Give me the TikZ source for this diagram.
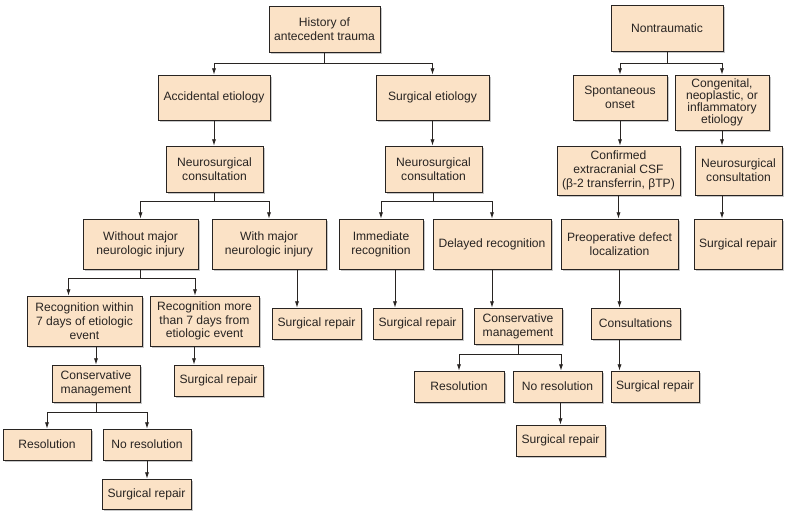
\documentclass[tikz,border=0pt]{standalone}
\usepackage{fontspec}
\setmainfont{Liberation Sans}
\usetikzlibrary{arrows.meta}
\usetikzlibrary{shadows}
\usetikzlibrary{calc}
\definecolor{peach}{RGB}{251,226,198}
\definecolor{ink}{RGB}{40,36,34}
\tikzset{x=0.025cm, y=-0.025cm,
every node/.style={font=\fontsize{8.6}{9.8}\selectfont, text=ink},
box/.style 2 args={ % Sets the properties for each box
draw=ink, fill=peach, line width=0.6pt,
align=center, inner sep=1pt,
minimum width=#1*0.025cm, minimum height=#2*0.025cm,
drop shadow={shadow xshift=1.3pt, shadow yshift=-1.3pt, fill=black, opacity=0.22}},
line/.style={draw=ink, line width=0.6pt}, % Plain connector
arr/.style={line, -{Latex[length=4.5pt,width=3pt]}}} % Connector with arrowhead

\begin{document}
\begin{tikzpicture}
	\useasboundingbox (0,0) rectangle (789,515);
	% traumatic branch
	\node[box={111}{46}] (hist) at (324.5,29) {History of\\antecedent trauma};
	\node[box={112}{45}] (acc) at (214,97.5) {Accidental etiology};
	\node[box={113}{45}] (surg) at (432.5,97.5) {Surgical etiology};
	\node[box={97}{46}] (ns1) at (214.5,169) {Neurosurgical\\consultation};
	\node[box={97}{46}] (ns2) at (433.5,169) {Neurosurgical\\consultation};
	\node[box={115}{50}] (wo) at (140.5,244) {Without major\\neurologic injury};
	\node[box={114}{50}] (wmaj) at (269,244) {With major\\neurologic injury};
	\node[box={84}{50}] (imm) at (381,244) {Immediate\\recognition};
	\node[box={118}{50}] (del) at (492,244) {Delayed recognition};
	\node[box={115}{50}] (rw) at (84.5,321) {Recognition within\\7 days of etiologic\\event};
	\node[box={109}{50}] (rm) at (204.5,321) {Recognition more\\than 7 days from\\etiologic event};
	\node[box={89}{31}] (sr1) at (316.5,323.5) {Surgical repair};
	\node[box={89}{31}] (sr2) at (417.5,323.5) {Surgical repair};
	\node[box={88}{36}] (cm2) at (518,326) {Conservative\\management};
	\node[box={88}{37}] (cm1) at (96,383.5) {Conservative\\management};
	\node[box={89}{31}] (sr3) at (218.5,380.5) {Surgical repair};
	\node[box={88}{31}] (res1) at (47,444.5) {Resolution};
	\node[box={88}{31}] (nores1) at (147,444.5) {No resolution};
	\node[box={89}{30}] (sr4) at (146.5,494) {Surgical repair};
	\node[box={90}{31}] (res2) at (459,386.5) {Resolution};
	\node[box={89}{31}] (nores2) at (557.5,386.5) {No resolution};
	\node[box={89}{31}] (sr6) at (560.5,440.5) {Surgical repair};
	% nontraumatic branch
	\node[box={112}{46}] (nontr) at (667,28.5) {Nontraumatic};
	\node[box={94}{45}] (spont) at (620,97.5) {Spontaneous\\onset};
	\node[box={94}{55}, font=\fontsize{8.6}{8.6}\selectfont] (cong) at (722,102.5) {Congenital,\\neoplastic, or\\inflammatory\\etiology};
	\node[box={123}{49}] (conf) at (618.5,170.5) {Confirmed\\extracranial CSF\\(β-2 transferrin, βTP)};
	\node[box={87}{49}] (ns3) at (738.5,170.5) {Neurosurgical\\consultation};
	\node[box={117}{50}] (preop) at (619.5,244) {Preoperative defect\\localization};
	\node[box={88}{50}] (srr) at (738,244) {Surgical repair};
	\node[box={89}{31}] (cons) at (635.5,323.5) {Consultations};
	\node[box={88}{31}] (sr5) at (655,386.5) {Surgical repair};

	% split connectors
	\draw[line] (hist.south) -- ++(0,11) coordinate (hb);
	\draw[arr] (hb) -| (acc.north);
	\draw[arr] (hb) -| (surg.north);
	\draw[line] (nontr.south) -- ++(0,11) coordinate (nb);
	\draw[arr] (nb) -| (spont.north);
	\draw[arr] (nb) -| (cong.north);
	\draw[line] (ns1.south) -- ++(0,9) coordinate (n1b);
	\draw[arr] (n1b) -| (wo.north);
	\draw[arr] (n1b) -| (wmaj.north);
	\draw[line] (ns2.south) -- ++(0,9) coordinate (n2b);
	\draw[arr] (n2b) -| (imm.north);
	\draw[arr] (n2b) -| (del.north);
	\draw[line] (wo.south) -- ++(0,9) coordinate (wb);
	\draw[arr] (wb) -| ($(rw.north)+(-16,0)$);
	\draw[arr] (wb) -| ($(rm.north)+(-9.5,0)$);
	\draw[line] (cm1.south) -- ++(0,10) coordinate (c1b);
	\draw[arr] (c1b) -| (res1.north);
	\draw[arr] (c1b) -| (nores1.north);
	\draw[line] (cm2.south) -- ++(0,10) coordinate (c2b);
	\draw[arr] (c2b) -| (res2.north);
	\draw[arr] (c2b) -| ($(nores2.north)+(3.5,0)$);

	% straight connectors
	\draw[arr] (acc.south) -- (acc.south |- ns1.north);
	\draw[arr] (surg.south) -- (surg.south |- ns2.north);
	\draw[arr] ($(wmaj.south)+(28,0)$) coordinate (w1) -- (w1 |- sr1.north);
	\draw[arr] ($(imm.south)+(14,0)$) coordinate (i1) -- (i1 |- sr2.north);
	\draw[arr] (del.south) -- (del.south |- cm2.north);
	\draw[arr] (cm1.north |- rw.south) -- (cm1.north);
	\draw[arr] ($(rm.south)+(-10.5,0)$) coordinate (r1) -- (r1 |- sr3.north);
	\draw[arr] (nores1.south) -- (nores1.south |- sr4.north);
	\draw[arr] (sr6.north |- nores2.south) -- (sr6.north);
	\draw[arr] (spont.south) -- (spont.south |- conf.north);
	\draw[arr] (cong.south) -- (cong.south |- ns3.north);
	\draw[arr] (cong.south |- ns3.south) -- (cong.south |- srr.north);
	\draw[arr] (conf.south) -- (conf.south |- preop.north);
	\draw[arr] (preop.south) -- (preop.south |- cons.north);
	\draw[arr] (preop.south |- cons.south) -- (preop.south |- sr5.north);
\end{tikzpicture}
\end{document}
